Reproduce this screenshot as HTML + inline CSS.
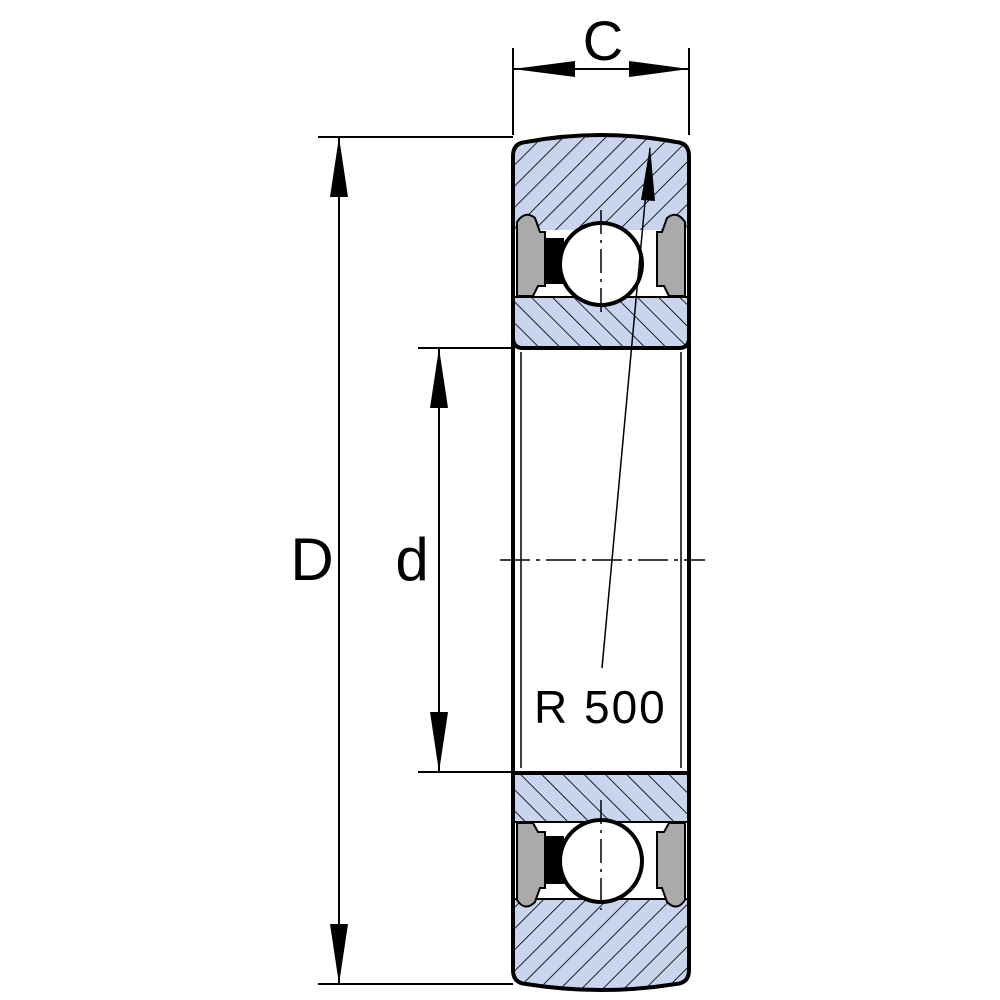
<!DOCTYPE html>
<html><head><meta charset="utf-8"><style>html,body{margin:0;padding:0;background:#fff}svg{display:block}</style></head><body>
<svg width="1000" height="1000" viewBox="0 0 1000 1000" xmlns="http://www.w3.org/2000/svg">
<defs>
<pattern id="h1" patternUnits="userSpaceOnUse" width="15" height="15" patternTransform="rotate(45)">
<rect width="15" height="15" fill="#c9d5ef"/><line x1="0" y1="0" x2="0" y2="15" stroke="#000" stroke-width="1.7"/></pattern>
<pattern id="h2" patternUnits="userSpaceOnUse" width="15" height="15" patternTransform="rotate(-45)">
<rect width="15" height="15" fill="#c9d5ef"/><line x1="0" y1="0" x2="0" y2="15" stroke="#000" stroke-width="1.7"/></pattern>
</defs>
<g stroke="#000" fill="none">
<line x1="513" y1="48" x2="513" y2="135" stroke-width="2"/>
<line x1="689" y1="48" x2="689" y2="135" stroke-width="2"/>
<line x1="513" y1="69" x2="689" y2="69" stroke-width="2"/>
<line x1="318" y1="137" x2="513" y2="137" stroke-width="2"/>
<line x1="318" y1="984" x2="513" y2="984" stroke-width="2"/>
<line x1="339" y1="137" x2="339" y2="984" stroke-width="2"/>
<line x1="418" y1="348" x2="513" y2="348" stroke-width="2"/>
<line x1="418" y1="772" x2="513" y2="772" stroke-width="2"/>
<line x1="439" y1="348" x2="439" y2="772" stroke-width="2"/>
</g>
<g fill="#000">
<polygon points="513,69 575,61 575,77"/>
<polygon points="689,69 629,61 629,77"/>
<polygon points="339,137 330,197 348,197"/>
<polygon points="339,984 330,924 348,924"/>
<polygon points="439,348 430,408 448,408"/>
<polygon points="439,772 430,712 448,712"/>
</g>
<g stroke="#000">
<line x1="513" y1="340" x2="513" y2="780" stroke-width="4"/>
<line x1="689" y1="340" x2="689" y2="780" stroke-width="4"/>
<line x1="521" y1="352" x2="521" y2="768" stroke-width="1.5"/>
<line x1="681" y1="352" x2="681" y2="768" stroke-width="1.5"/>
<line x1="500" y1="560" x2="705" y2="560" stroke-width="1.5" stroke-dasharray="30,6,4,6"/>
</g>
<path d="M513,232 L513,156 Q513,143 526,142 Q601,128 676,142 Q689,143 689,156 L689,232 Z" fill="url(#h1)" stroke="#000" stroke-width="4"/>
<path d="M513,296 L689,296 L689,338 Q689,348 679,348 L523,348 Q513,348 513,338 Z" fill="url(#h2)" stroke="#000" stroke-width="4"/>
<rect x="515" y="230" width="172" height="66" fill="#fff"/>
<path d="M517,222 Q525,210 535,218 L540,232 L545,232 L545,286 L538,286 L533,296 L517,296 Z" fill="#aaa" stroke="#000" stroke-width="2"/>
<path d="M685,222 Q677,210 667,218 L662,232 L657,232 L657,286 L664,286 L669,296 L685,296 Z" fill="#aaa" stroke="#000" stroke-width="2"/>
<line x1="513" y1="230" x2="513" y2="298" stroke="#000" stroke-width="4"/>
<line x1="689" y1="230" x2="689" y2="298" stroke="#000" stroke-width="4"/>
<rect x="546" y="238" width="18" height="46" fill="#000"/>
<circle cx="601" cy="264" r="41" fill="#fff" stroke="#000" stroke-width="4"/>
<line x1="601" y1="210" x2="601" y2="318" stroke="#000" stroke-width="1.5" stroke-dasharray="24,6,3,6"/>
<path d="M513,773 L689,773 L689,823 L513,823 Z" fill="url(#h2)" stroke="#000" stroke-width="4"/>
<path d="M513,898 L513,970 Q513,983 526,984 Q601,996 676,984 Q689,983 689,970 L689,898 Z" fill="url(#h1)" stroke="#000" stroke-width="4"/>
<rect x="515" y="823" width="172" height="75" fill="#fff"/>
<path d="M517,823 L533,823 L538,832 L545,832 L545,888 L540,888 L535,902 Q525,912 517,900 Z" fill="#aaa" stroke="#000" stroke-width="2"/>
<path d="M685,823 L669,823 L664,832 L657,832 L657,888 L662,888 L667,902 Q677,912 685,900 Z" fill="#aaa" stroke="#000" stroke-width="2"/>
<line x1="513" y1="820" x2="513" y2="900" stroke="#000" stroke-width="4"/>
<line x1="689" y1="820" x2="689" y2="900" stroke="#000" stroke-width="4"/>
<rect x="546" y="836" width="18" height="48" fill="#000"/>
<circle cx="601" cy="861" r="41" fill="#fff" stroke="#000" stroke-width="4"/>
<line x1="601" y1="800" x2="601" y2="910" stroke="#000" stroke-width="1.5" stroke-dasharray="24,6,3,6"/>
<line x1="650" y1="148" x2="602" y2="668" stroke="#000" stroke-width="1.5"/>
<polygon points="650,146 641,200 655,201" fill="#000"/>
<g font-family="Liberation Sans, sans-serif" fill="#000">
<text x="603" y="60" font-size="56" text-anchor="middle">C</text>
<text x="312" y="580" font-size="60" text-anchor="middle">D</text>
<text x="412" y="580" font-size="60" text-anchor="middle">d</text>
<text x="534" y="723" font-size="46" letter-spacing="2">R 500</text>
</g>
</svg>
</body></html>
